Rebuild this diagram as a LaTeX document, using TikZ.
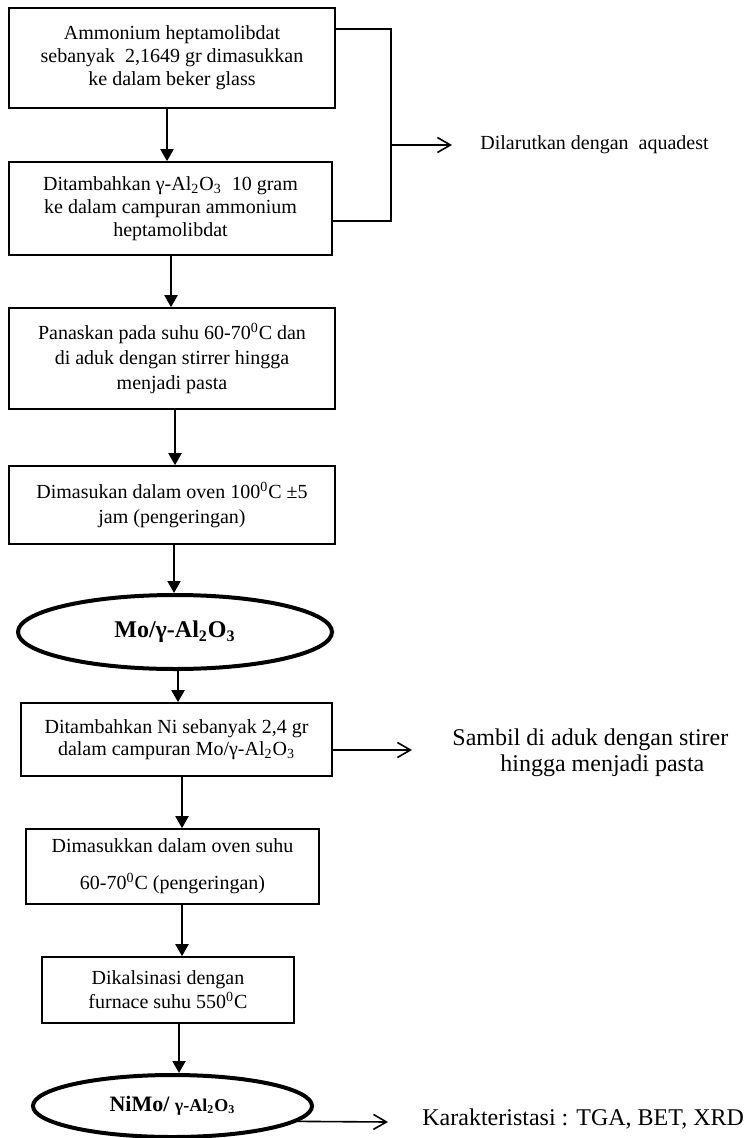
\documentclass[tikz,border=0pt]{standalone}
\usepackage{fontspec}
\setmainfont{Liberation Serif}
\usetikzlibrary{arrows.meta,shapes.geometric}
\begin{document}
\begin{tikzpicture}[x=0.5pt,y=-0.5pt,
  box/.style={draw,line width=0.8pt,align=center,inner sep=0pt},
  oval/.style={draw,ellipse,line width=2pt,inner sep=0pt},
  varr/.style={line width=1pt,-{Triangle[length=6pt,width=6.5pt]}},
  harr/.style={line width=0.8pt,-{Straight Barb[length=6.5pt,width=7.5pt]}},
  bline/.style={line width=0.8pt},
  lbl/.style={align=left,inner sep=0pt,anchor=west}]
\useasboundingbox (0,0) rectangle (750,1138);

% boxes
\node[box,minimum width=163pt,minimum height=50pt,font=\fontsize{10}{11.5}\selectfont] (box1) at (172,58)
  {Ammonium heptamolibdat\\sebanyak~ 2,1649 gr dimasukkan\\ke dalam beker glass};
\node[box,minimum width=161.5pt,minimum height=46.5pt,font=\fontsize{10}{11.5}\selectfont] (box2) at (170.5,208.5)
  {Ditambahkan γ-Al\textsubscript{2}O\textsubscript{3}~ 10 gram\\ke dalam campuran ammonium\\heptamolibdat};
\node[box,minimum width=163pt,minimum height=50.5pt,font=\fontsize{10}{12.5}\selectfont] (box3) at (172,358.5)
  {Panaskan pada suhu 60-70\textsuperscript{0}C dan\\di aduk dengan stirrer hingga\\menjadi pasta};
\node[box,minimum width=163pt,minimum height=39pt,font=\fontsize{10}{12.5}\selectfont] (box4) at (172,505)
  {Dimasukan dalam oven 100\textsuperscript{0}C ±5\\jam (pengeringan)};
\node[oval,minimum width=157pt,minimum height=37pt,font=\fontsize{12}{14}\selectfont\bfseries] (ell1) at (175,632)
  {Mo/γ-Al\textsubscript{2}O\textsubscript{3}};
\node[box,minimum width=155.5pt,minimum height=36.5pt,font=\fontsize{10}{11}\selectfont] (box5) at (176.5,739.5)
  {Ditambahkan Ni sebanyak 2,4 gr\\dalam campuran Mo/γ-Al\textsubscript{2}O\textsubscript{3}};
\node[box,minimum width=146.5pt,minimum height=37.5pt,font=\fontsize{10}{18.5}\selectfont] (box6) at (172.5,866.5)
  {Dimasukkan dalam oven suhu\\60-70\textsuperscript{0}C (pengeringan)};
\node[box,minimum width=126pt,minimum height=33pt,font=\fontsize{10}{12}\selectfont] (box7) at (168,990)
  {Dikalsinasi dengan\\furnace suhu 550\textsuperscript{0}C};
\node[oval,minimum width=139.5pt,minimum height=31pt] (ell2) at (172.5,1106)
  {\fontsize{11}{13}\selectfont\bfseries NiMo/ {\fontsize{9}{11}\selectfont γ-Al\textsubscript{2}O\textsubscript{3}}};

% side labels
\node[lbl,font=\fontsize{10}{12}\selectfont] (dil) at (480,145) {Dilarutkan dengan~ aquadest};
\node[lbl,font=\fontsize{12}{13}\selectfont] (sam) at (452,753) {Sambil di aduk dengan stirer\\\hspace*{24pt}hingga menjadi pasta};
\node[lbl,font=\fontsize{12}{14}\selectfont] (kar) at (422,1119) {Karakteristasi : TGA, BET, XRD};

% x positions of vertical arrows
\coordinate (c1) at (167,0);
\coordinate (c2) at (171,0);
\coordinate (c3) at (175,0);
\coordinate (c4) at (174,0);
\coordinate (c5) at (178,0);
\coordinate (c6) at (182,0);
\coordinate (c7) at (182,0);
\coordinate (c8) at (179,0);

\draw[varr] (box1.south -| c1) -- (box2.north -| c1);
\draw[varr] (box2.south -| c2) -- (box3.north -| c2);
\draw[varr] (box3.south -| c3) -- (box4.north -| c3);
\draw[varr] (box4.south -| c4) -- (ell1.north -| c4);
\draw[varr] (ell1.south -| c5) -- (box5.north -| c5);
\draw[varr] (box5.south -| c6) -- (box6.north -| c6);
\draw[varr] (box6.south -| c7) -- (box7.north -| c7);
\draw[varr] (box7.south -| c8) -- (ell2.north -| c8);

% bracket
\coordinate (b1) at (391,29);
\coordinate (b2) at (391,221);
\coordinate (bm) at (391,145);
\coordinate (d1) at (452,145);
\draw[bline] (box1.east |- b1) -- (b1) -- (b2) -- (box2.east |- b2);
\draw[harr] (bm) -- (d1);

% side arrows
\coordinate (s1) at (412,750);
\draw[harr] (box5.east |- s1) -- (s1);
\coordinate (k1) at (388,1122);
\draw[harr] (ell2.-7.6) -- (k1);
\end{tikzpicture}
\end{document}
